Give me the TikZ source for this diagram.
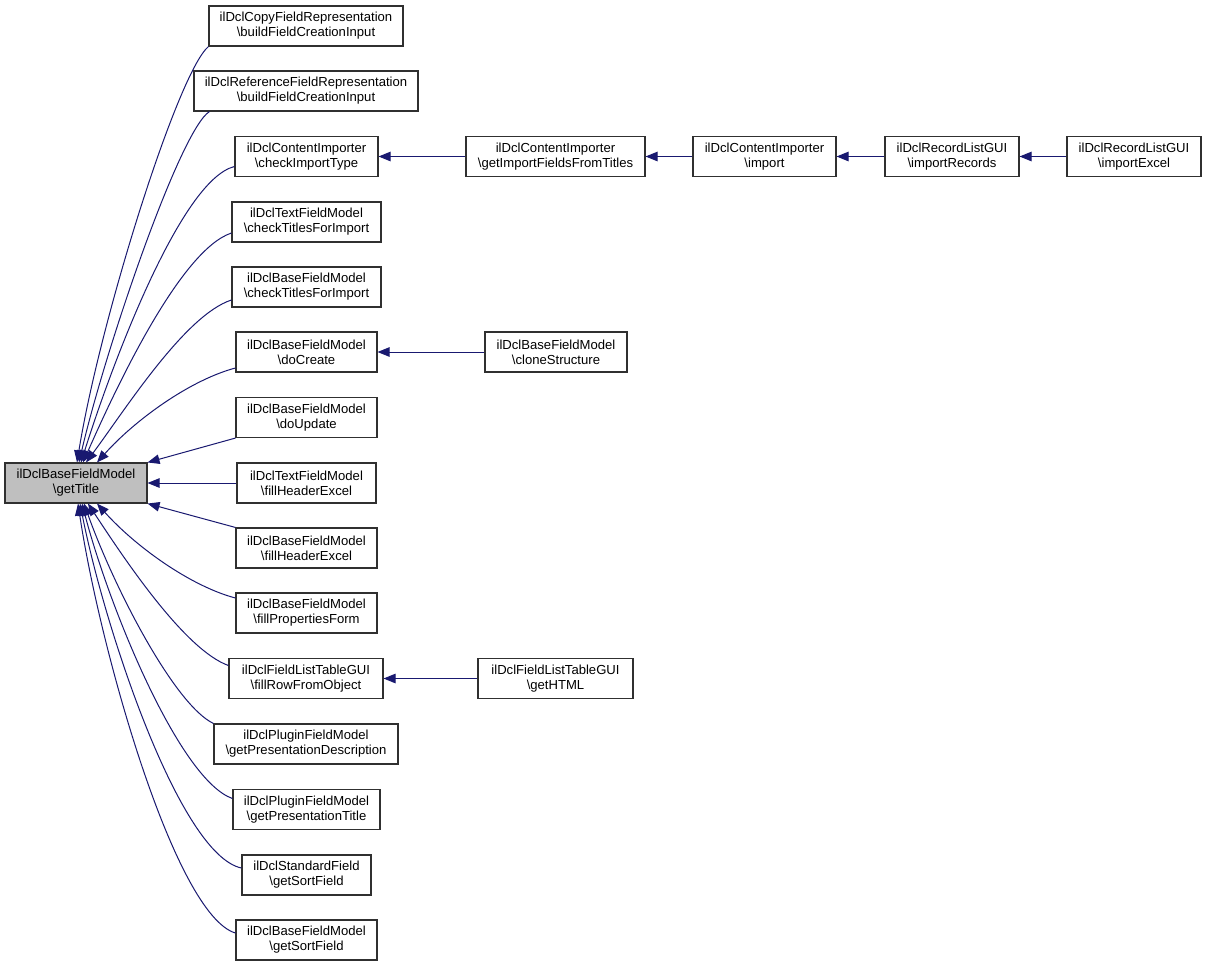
\documentclass[tikz,border=0pt]{standalone}
\usepackage{fontspec}
\setmainfont{Liberation Sans}
\usetikzlibrary{arrows.meta}
\definecolor{edgeblue}{HTML}{191970}
\definecolor{mainfill}{HTML}{BFBFBF}
\definecolor{boxline}{HTML}{303030}
\begin{document}
\begin{tikzpicture}[x=1pt,y=-1pt,
  box/.style={draw=boxline, line width=1.1pt, fill=white, inner sep=0pt,
    minimum height=40pt, align=center, font=\fontsize{13.1}{15}\selectfont},
  edge/.style={draw=edgeblue, line width=1pt, -{Triangle[length=12pt,width=9.5pt]}}]
\useasboundingbox[fill=white] (0,0) rectangle (1207,967);

% main node
\node[box, fill=mainfill, minimum width=142pt] (gt) at (76,483) {ilDclBaseFieldModel\\\textbackslash getTitle};

% callers
\node[box, minimum width=194pt] (copy) at (306,26) {ilDclCopyFieldRepresentation\\\textbackslash buildFieldCreationInput};
\node[box, minimum width=224pt] (ref) at (306,91) {ilDclReferenceFieldRepresentation\\\textbackslash buildFieldCreationInput};
\node[box, minimum width=143pt] (cit) at (306.5,156.5) {ilDclContentImporter\\\textbackslash checkImportType};
\node[box, minimum width=179pt] (gif) at (555.5,156.5) {ilDclContentImporter\\\textbackslash getImportFieldsFromTitles};
\node[box, minimum width=143pt] (imp) at (764.5,156.5) {ilDclContentImporter\\\textbackslash import};
\node[box, minimum width=134pt] (ir) at (952,156.5) {ilDclRecordListGUI\\\textbackslash importRecords};
\node[box, minimum width=134pt] (ie) at (1134,156.5) {ilDclRecordListGUI\\\textbackslash importExcel};
\node[box, minimum width=149pt] (tct) at (306.5,222) {ilDclTextFieldModel\\\textbackslash checkTitlesForImport};
\node[box, minimum width=149pt] (bct) at (306.5,287) {ilDclBaseFieldModel\\\textbackslash checkTitlesForImport};
\node[box, minimum width=141pt] (dc) at (306.5,352) {ilDclBaseFieldModel\\\textbackslash doCreate};
\node[box, minimum width=142pt] (cs) at (556,352) {ilDclBaseFieldModel\\\textbackslash cloneStructure};
\node[box, minimum width=141pt] (du) at (306.5,417.5) {ilDclBaseFieldModel\\\textbackslash doUpdate};
\node[box, minimum width=139pt] (tfe) at (306.5,483) {ilDclTextFieldModel\\\textbackslash fillHeaderExcel};
\node[box, minimum width=141pt] (bfe) at (306.5,548) {ilDclBaseFieldModel\\\textbackslash fillHeaderExcel};
\node[box, minimum width=141pt] (fpf) at (306.5,613) {ilDclBaseFieldModel\\\textbackslash fillPropertiesForm};
\node[box, minimum width=154pt] (frfo) at (306,678.5) {ilDclFieldListTableGUI\\\textbackslash fillRowFromObject};
\node[box, minimum width=155pt] (gh) at (555.5,678.5) {ilDclFieldListTableGUI\\\textbackslash getHTML};
\node[box, minimum width=184pt] (gpd) at (306,744) {ilDclPluginFieldModel\\\textbackslash getPresentationDescription};
\node[box, minimum width=147pt] (gpt) at (306.5,809.5) {ilDclPluginFieldModel\\\textbackslash getPresentationTitle};
\node[box, minimum width=129pt] (sf) at (306.5,875) {ilDclStandardField\\\textbackslash getSortField};
\node[box, minimum width=141pt] (bsf) at (306.5,940) {ilDclBaseFieldModel\\\textbackslash getSortField};

% chain edges
\draw[edge] (gif.west) -- (cit.east);
\draw[edge] (imp.west) -- (gif.east);
\draw[edge] (ir.west) -- (imp.east);
\draw[edge] (ie.west) -- (ir.east);
\draw[edge] (cs.west) -- (dc.east);
\draw[edge] (gh.west) -- (frfo.east);

% edges into getTitle (top side)
\draw[edge] (copy.south west) .. controls (178,72) and (100,320) .. ([xshift=1pt]gt.north);
\draw[edge] ([xshift=16pt]ref.south west) .. controls (180,130) and (105,350) .. ([xshift=3pt]gt.north);
\draw[edge] ([yshift=-10pt]cit.west) .. controls (180,180) and (110,370) .. ([xshift=5pt]gt.north);
\draw[edge] ([yshift=-11pt]tct.west) .. controls (180,250) and (115,390) .. ([xshift=7pt]gt.north);
\draw[edge] ([yshift=-13pt]bct.west) .. controls (185,315) and (125,410) .. ([xshift=10pt]gt.north);
\draw[edge] ([yshift=-16pt]dc.west) .. controls (190,380) and (135,420) .. ([xshift=21pt]gt.north);
\draw[edge] (du.south west) -- (gt.north east);
\draw[edge] (tfe.west) -- (gt.east);
\draw[edge] (bfe.north west) -- (gt.south east);

% edges into getTitle (bottom side)
\draw[edge] ([yshift=15pt]fpf.west) .. controls (190,586) and (135,546) .. ([xshift=21pt]gt.south);
\draw[edge] ([yshift=13pt]frfo.west) .. controls (185,650) and (125,560) .. ([xshift=12pt]gt.south);
\draw[edge] (gpd.north west) .. controls (175,705) and (115,590) .. ([xshift=8pt]gt.south);
\draw[edge] ([yshift=11pt]gpt.west) .. controls (180,780) and (110,610) .. ([xshift=6pt]gt.south);
\draw[edge] ([yshift=7pt]sf.west) .. controls (180,855) and (105,630) .. ([xshift=4pt]gt.south);
\draw[edge] ([yshift=7pt]bsf.west) .. controls (175,915) and (100,650) .. ([xshift=2pt]gt.south);
\end{tikzpicture}
\end{document}
